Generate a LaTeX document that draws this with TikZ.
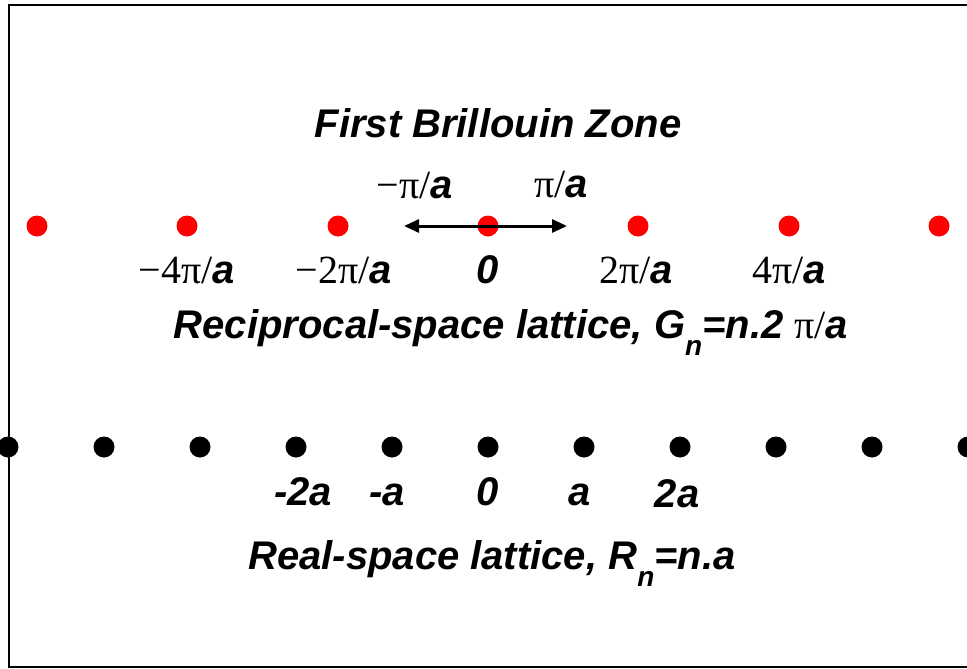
\documentclass[tikz,border=0pt]{standalone}
\usepackage{fontspec}
\setmainfont{Liberation Sans}
\newfontfamily\tnr{Liberation Serif}
\usetikzlibrary{arrows.meta}
\newcommand{\bi}[1]{\textbf{\textit{#1}}}
\newcommand{\tm}[1]{{\tnr #1}}
\begin{document}
\begin{tikzpicture}[x=1pt,y=-1pt,
  lbl/.style={inner sep=0pt,anchor=base,font=\fontsize{40}{48}\selectfont},
  rdot/.style={circle,fill=red,inner sep=0pt,minimum size=21pt},
  bdot/.style={circle,fill=black,inner sep=0pt,minimum size=21pt}]
\useasboundingbox (0,0) rectangle (967,669);
\fill[white] (0,0) rectangle (967,669);
\draw[line width=1.6pt] (9,5) rectangle (990,667);
% reciprocal lattice
\foreach \i/\x in {1/37,2/187,3/338,4/488,5/638,6/789,7/939}
  \node[rdot] (r\i) at (\x,226) {};
\coordinate (al) at (404,226);
\coordinate (ar) at (567,226);
\draw[line width=3pt,{Triangle[length=15pt,width=13pt]}-{Triangle[length=15pt,width=13pt]}] (al) -- (ar);
\node[lbl] (title) at (498,137) {\bi{First Brillouin Zone}};
\node[lbl] (mpa) at (415,198) {\tm{−π/}\bi{a}};
\node[lbl] (ppa) at (561,197) {\tm{π/}\bi{a}};
\node[lbl] (g1) at (187,283) {\tm{−4π/}\bi{a}};
\node[lbl] (g2) at (344,283) {\tm{−2π/}\bi{a}};
\node[lbl] (g3) at (488,283) {\bi{0}};
\node[lbl] (g4) at (636,283) {\tm{2π/}\bi{a}};
\node[lbl] (g5) at (789,283) {\tm{4π/}\bi{a}};
\node[lbl] (rec) at (511,338) {\bi{Reciprocal-space lattice, G\raisebox{-17pt}{\fontsize{28}{28}\selectfont n}=n.2 }\tm{π/}\bi{a}};
% real lattice
\foreach \i/\x in {1/8,2/104,3/200,4/296,5/392,6/488,7/584,8/680,9/776,10/872,11/968}
  \node[bdot] (b\i) at (\x,447) {};
\node[lbl] (x1) at (303,505) {\bi{-2a}};
\node[lbl] (x2) at (387,505) {\bi{-a}};
\node[lbl] (x3) at (488,505) {\bi{0}};
\node[lbl] (x4) at (580,505) {\bi{a}};
\node[lbl] (x5) at (677,507) {\bi{2a}};
\node[lbl] (real) at (492,569) {\bi{Real-space lattice, R\raisebox{-17pt}{\fontsize{28}{28}\selectfont n}=n.a}};
\end{tikzpicture}
\end{document}
